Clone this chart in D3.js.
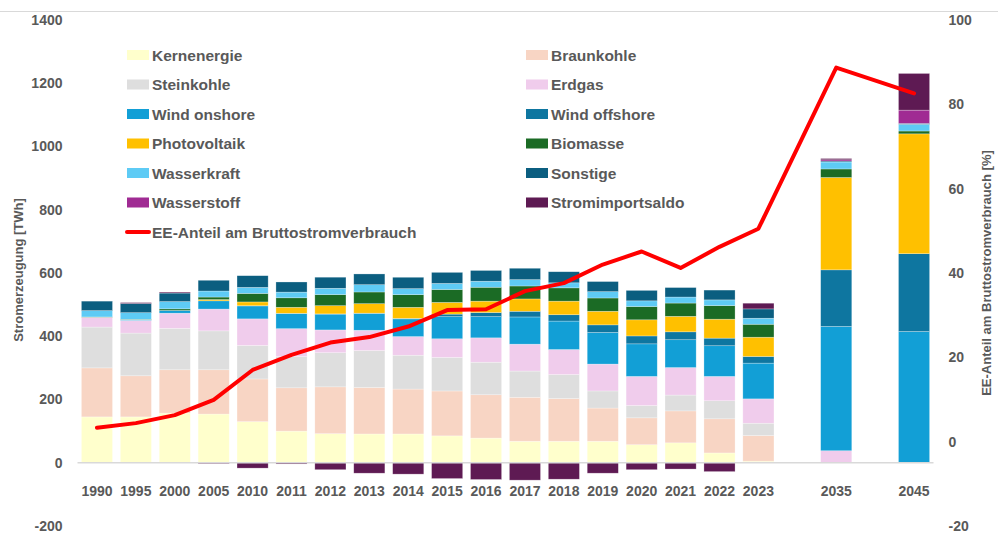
<!DOCTYPE html>
<html>
<head>
<meta charset="utf-8">
<script src="https://cdn.jsdelivr.net/npm/d3@7"></script>
<style>
  html, body { margin: 0; padding: 0; background: #fff; }
  svg text { font-family: "Liberation Sans", Arial, sans-serif; fill: #595959; }
</style>
</head>
<body>
<svg id="chart" width="998" height="534"></svg>
<script>
// Bruttostromerzeugung nach Energieträgern [TWh] und EE-Anteil [%]
const years = ["1990","1995","2000","2005","2010","2011","2012","2013","2014","2015",
               "2016","2017","2018","2019","2020","2021","2022","2023","2035","2045"];

const kernenergie   = [145,145,157,154,130,100, 92, 91, 91, 85, 78, 68, 68, 68, 57, 63, 31,  5,   0,   0];
const braunkohle    = [155,130,137,140,135,137,148,147,142,142,137,139,135,105, 85,101,108, 81,   0,   0];
const steinkohle    = [129,135,131,123,106, 99,108,117,107,106,103, 83, 76, 54, 39, 50, 57, 39,   0,   0];
const erdgas        = [ 31, 40, 48, 69, 84, 88, 72, 64, 59, 59, 77, 85, 79, 85, 92, 87, 77, 77,  38,   0];
const windOnshore   = [  0,  1.5, 8.6, 26, 41, 48, 50, 53, 56, 70, 67, 86, 90,100,103, 88, 97,113, 393, 415];
const windOffshore  = [  0,  0,  0,  0,0.5,0.6,0.7,  1,1.5,  8, 13, 18, 20, 24, 25, 25, 24, 21, 179, 246];
const photovoltaik  = [  0,  0,  0,  4, 12, 19, 26, 30, 35, 37, 36, 39, 43, 43, 51, 49, 60, 61, 292, 379];
const biomasse      = [  1,  2,  5,  8, 27, 30, 35, 37, 40, 41, 44, 41, 42, 42, 42, 42, 43, 41,  27,   9];
const wasserkraft   = [ 20, 21, 23, 19, 19, 18, 20, 23, 19, 19, 19, 20, 16, 20, 18, 19, 18, 19,  22,  21];
const sonstige      = [ 30, 29, 27, 34, 37, 32, 35, 34, 36, 35, 34, 36, 35, 32, 33, 30, 31, 29.5, 3,   3];
const wasserstoff   = [  0,  0,  0,  0,  0,  0,  0,  0,  0,  0,  0,  0,  0,  0,  0,  0,  0,  0,   4,  42];
const stromimport   = [  0,  3,  3, -3,-17, -4,-22,-33,-36,-50,-53,-55,-52,-33,-22,-20,-28, 18,   4, 116];

const eeAnteil      = [3.3,4.4,6.3,9.9,17.0,20.6,23.5,24.8,27.3,31.2,31.4,35.7,37.6,42.0,45.1,41.2,46.2,50.5,88.7,82.6];

const leftTicks  = [-200, 0, 200, 400, 600, 800, 1000, 1200, 1400];
const rightTicks = [-20, 0, 20, 40, 60, 80, 100];

const series = [
  { key: "Kernenergie",      values: kernenergie,  color: "#FFFFCC" },
  { key: "Braunkohle",       values: braunkohle,   color: "#F8D5C4" },
  { key: "Steinkohle",       values: steinkohle,   color: "#DEDEDE" },
  { key: "Erdgas",           values: erdgas,       color: "#F0CCEC" },
  { key: "Wind onshore",     values: windOnshore,  color: "#129FD6" },
  { key: "Wind offshore",    values: windOffshore, color: "#0E76A0" },
  { key: "Photovoltaik",     values: photovoltaik, color: "#FFC000" },
  { key: "Biomasse",         values: biomasse,     color: "#1B6B25" },
  { key: "Wasserkraft",      values: wasserkraft,  color: "#5ECBF5" },
  { key: "Sonstige",         values: sonstige,     color: "#0B5E80" },
  { key: "Wasserstoff",      values: wasserstoff,  color: "#A02B93" },
  { key: "Stromimportsaldo", values: stromimport,  color: "#5E1A53" }
];
const lineLabel = "EE-Anteil am Bruttostromverbrauch";

const svg = d3.select("#chart");
const plot = { left: 77.5, right: 933.5, top: 20, bottom: 526 };
const plainNumber = d => String(d);   // no thousands separator, ASCII minus

// category slots: projection years are separated by an empty slot
const slots = [];
years.forEach(y => {
  if (y === "2035" || y === "2045") slots.push("gap-" + y);
  slots.push(y);
});

const x = d3.scaleBand().domain(slots).range([plot.left, plot.right]).paddingInner(0.2).paddingOuter(0.1);
const yL = d3.scaleLinear().domain([-200, 1400]).range([plot.bottom, plot.top]);
const yR = d3.scaleLinear().domain([-20, 100]).range([plot.bottom, plot.top]);

// top border line
svg.append("line").attr("x1", 0).attr("x2", 998).attr("y1", 11.5).attr("y2", 11.5)
  .attr("stroke", "#D9D9D9").attr("stroke-width", 1);

// stacked bars (imports below zero when exporting)
const rows = years.map((y, i) => {
  const r = { year: y };
  series.forEach(s => r[s.key] = s.values[i]);
  return r;
});
const stack = d3.stack().keys(series.map(s => s.key)).offset(d3.stackOffsetDiverging);
const layers = stack(rows);

svg.append("g").selectAll("g").data(layers).join("g")
  .attr("fill", (d, i) => series[i].color)
  .selectAll("rect").data(d => d.filter(p => p[1] - p[0] !== 0)).join("rect")
  .attr("x", d => x(d.data.year))
  .attr("width", x.bandwidth())
  .attr("y", d => yL(Math.max(d[0], d[1])))
  .attr("height", d => Math.abs(yL(d[0]) - yL(d[1])))
  .attr("stroke", "rgba(255,255,255,0.45)")
  .attr("stroke-width", 0.6);

// zero line
svg.append("line")
  .attr("x1", plot.left).attr("x2", plot.right)
  .attr("y1", yL(0)).attr("y2", yL(0))
  .attr("stroke", "#D9D9D9").attr("stroke-width", 1.5);

// EE share line (right axis)
const line = d3.line()
  .x((d, i) => x(years[i]) + x.bandwidth() / 2)
  .y(d => yR(d));
svg.append("path").datum(eeAnteil)
  .attr("d", line)
  .attr("fill", "none").attr("stroke", "#FF0000")
  .attr("stroke-width", 4).attr("stroke-linejoin", "round").attr("stroke-linecap", "round");

// left axis
const axL = svg.append("g").attr("transform", `translate(${plot.left},0)`)
  .call(d3.axisLeft(yL).tickValues(leftTicks).tickFormat(plainNumber).tickSize(0).tickPadding(15));
axL.select(".domain").remove();
axL.selectAll("text").style("font-size", "14px").style("font-weight", "bold").attr("fill", "#595959");

// right axis
const axR = svg.append("g").attr("transform", `translate(${plot.right},0)`)
  .call(d3.axisRight(yR).tickValues(rightTicks).tickFormat(plainNumber).tickSize(0).tickPadding(15));
axR.select(".domain").remove();
axR.selectAll("text").style("font-size", "14px").style("font-weight", "bold").attr("fill", "#595959");

// category axis labels
const axX = svg.append("g").attr("transform", `translate(0,${yL(0)})`)
  .call(d3.axisBottom(x).tickValues(years).tickSize(0).tickPadding(23));
axX.select(".domain").remove();
axX.selectAll("text").style("font-size", "14px").style("font-weight", "bold").attr("fill", "#595959");

// axis titles
svg.append("text")
  .attr("transform", `translate(23,270) rotate(-90)`)
  .attr("text-anchor", "middle")
  .style("font-size", "13px").style("font-weight", "bold")
  .text("Stromerzeugung [TWh]");
svg.append("text")
  .attr("transform", `translate(991,273) rotate(-90)`)
  .attr("text-anchor", "middle")
  .style("font-size", "13px").style("font-weight", "bold")
  .text("EE-Anteil am Bruttostromverbrauch [%]");

// legend: two columns, series in reading order
const legend = svg.append("g");
const colX = [127, 526];
const rowY0 = 55, rowH = 29.5;
series.forEach((s, i) => {
  const cx = colX[i % 2], cy = rowY0 + Math.floor(i / 2) * rowH;
  legend.append("rect").attr("x", cx).attr("y", cy - 5).attr("width", 22).attr("height", 10).attr("fill", s.color);
  legend.append("text").attr("x", cx + 25).attr("y", cy).attr("dy", "0.36em")
    .style("font-size", "15.5px").style("font-weight", "bold").text(s.key);
});
const ly = rowY0 + 6 * rowH;
legend.append("line").attr("x1", colX[0]).attr("x2", colX[0] + 22).attr("y1", ly).attr("y2", ly)
  .attr("stroke", "#FF0000").attr("stroke-width", 4).attr("stroke-linecap", "round");
legend.append("text").attr("x", colX[0] + 25).attr("y", ly).attr("dy", "0.36em")
  .style("font-size", "15.5px").style("font-weight", "bold").text(lineLabel);
</script>
</body>
</html>
